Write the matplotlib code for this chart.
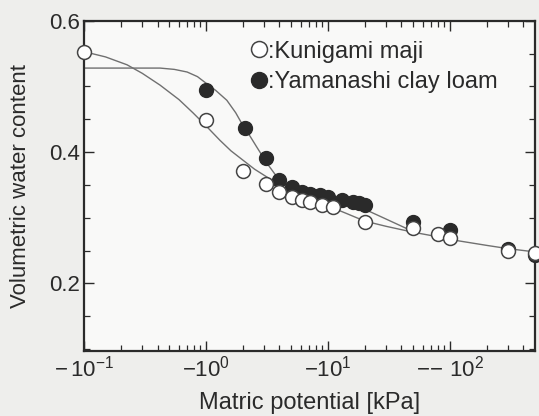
import matplotlib
matplotlib.use("Agg")
import matplotlib.pyplot as plt
from matplotlib.ticker import FixedLocator, FixedFormatter, MultipleLocator
import numpy as np

plt.rcParams['font.family'] = ['Liberation Sans', 'DejaVu Sans']
plt.rcParams['mathtext.fontset'] = 'custom'
plt.rcParams['mathtext.rm'] = 'Liberation Sans'
plt.rcParams['mathtext.it'] = 'Liberation Sans'

# Kunigami maji (open circles), suction in kPa
kun_x = [0.1, 1.0, 2.0, 3.1, 4.0, 5.1, 6.1, 7.1, 8.9, 11, 20, 50, 80, 100, 300, 500]
kun_y = [0.553, 0.449, 0.372, 0.352, 0.339, 0.331, 0.327, 0.324, 0.319, 0.316,
         0.293, 0.284, 0.276, 0.269, 0.250, 0.246]
# Yamanashi clay loam (filled circles)
yam_x = [1.0, 2.1, 3.1, 4.0, 5.1, 6.1, 7.1, 8.6, 10, 13, 16, 18, 20, 50, 100, 300, 500]
yam_y = [0.495, 0.437, 0.391, 0.357, 0.347, 0.339, 0.337, 0.334, 0.331, 0.327,
         0.324, 0.322, 0.319, 0.293, 0.281, 0.252, 0.243]

# fitted curves
kun_fit_x = [0.1, 0.15, 0.225, 0.3, 0.42, 0.6, 0.78, 1.0, 1.3, 1.6, 2.0, 2.5, 3.16, 4.0, 5.0,
             7.0, 10, 14, 20, 30, 50, 70, 100, 200, 300, 500]
kun_fit_y = [0.553, 0.545, 0.533, 0.520, 0.502, 0.480, 0.460, 0.440, 0.418, 0.402, 0.388,
             0.374, 0.362, 0.349, 0.340, 0.329, 0.318, 0.307, 0.295, 0.287, 0.278, 0.273,
             0.267, 0.258, 0.253, 0.248]
yam_fit_x = [0.1, 0.3, 0.42, 0.55, 0.7, 0.85, 1.0, 1.2, 1.48, 1.75, 2.0, 2.3, 2.6, 3.16,
             4.0, 5.0, 7.0, 10, 14, 20, 30, 50]
yam_fit_y = [0.528, 0.528, 0.528, 0.526, 0.522, 0.515, 0.505, 0.494, 0.479, 0.460, 0.441,
             0.424, 0.408, 0.383, 0.357, 0.345, 0.336, 0.329, 0.322, 0.313, 0.298, 0.279]

xtick_vals = [0.1, 1, 10, 100]
xtick_labels = [r'$-\,10^{-1}$', r'$-10^{0}$', r'$-10^{1}$', r'$-\!-\,10^{2}$']

ink = '#2a2a2a'
fig = plt.figure(figsize=(5.39, 4.16), dpi=100, facecolor='#eeeeec')
ax = fig.add_axes([0.156, 0.156, 0.837, 0.794])
ax.set_facecolor('#f9f9f8')

ax.plot(kun_fit_x, kun_fit_y, color='#707070', lw=1.0, zorder=2)
ax.plot(yam_fit_x, yam_fit_y, color='#707070', lw=1.0, zorder=2)
ax.plot(yam_x, yam_y, 'o', ms=10, mfc=ink, mec=ink, zorder=3, clip_on=False)
ax.plot(kun_x, kun_y, 'o', ms=10, mfc='white', mec='#444444', mew=1.1, zorder=4, clip_on=False)

ax.set_xscale('log')
ax.set_xlim(0.1, 500)
ax.set_ylim(0.097, 0.6)

ax.xaxis.set_major_locator(FixedLocator(xtick_vals))
ax.xaxis.set_major_formatter(FixedFormatter(xtick_labels))
minor = [m * 10.0 ** e for e in range(-1, 3) for m in range(2, 10)]
ax.xaxis.set_minor_locator(FixedLocator([v for v in minor if v < 500]))
ax.xaxis.set_minor_formatter(FixedFormatter([]))
ax.yaxis.set_major_locator(FixedLocator([0.2, 0.4, 0.6]))
ax.yaxis.set_minor_locator(MultipleLocator(0.05))

ax.tick_params(which='both', direction='in', top=True, right=True, color=ink)
ax.tick_params(which='major', length=7, width=1.0, labelsize=16, labelcolor=ink)
ax.tick_params(axis='x', which='major', pad=3)
ax.tick_params(axis='y', which='major', pad=3)
ax.tick_params(which='minor', length=4, width=0.9)
for s in ax.spines.values():
    s.set_color(ink)
    s.set_linewidth(1.6)

ax.set_xlabel('Matric potential [kPa]', fontsize=17, color=ink)
ax.xaxis.set_label_coords(0.5, -0.125)
ax.set_ylabel('Volumetric water content', fontsize=16, color=ink)
ax.yaxis.set_label_coords(-0.118, 0.5)

# legend
ax.plot([], [], 'o', ms=11.5, mfc='white', mec='#444444', mew=1.1, label=':Kunigami maji')
ax.plot([], [], 'o', ms=11.5, mfc=ink, mec=ink, label=':Yamanashi clay loam')
leg = ax.legend(loc='upper left', bbox_to_anchor=(0.372, 0.94), frameon=False,
                handlelength=0.6, handletextpad=0.1, fontsize=17, labelspacing=0.37,
                borderaxespad=0.0, borderpad=0.0)
for t in leg.get_texts():
    t.set_color(ink)

fig.savefig('out.png', dpi=100, facecolor=fig.get_facecolor())
